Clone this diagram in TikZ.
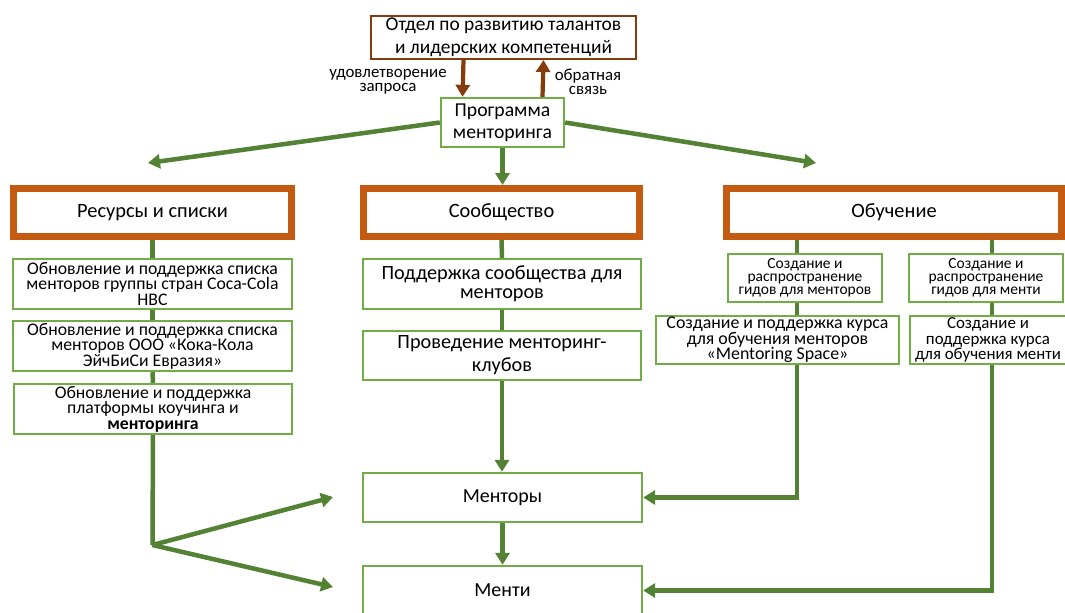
\documentclass[tikz,border=0pt]{standalone}
\usepackage{fontspec}
\setmainfont{Carlito}
\usetikzlibrary{arrows.meta, positioning}
\definecolor{brownline}{HTML}{843C0C}
\definecolor{orangeline}{HTML}{C55A11}
\definecolor{greenline}{HTML}{548235}
\definecolor{greenbox}{HTML}{70AD47}
\newcommand{\pxu}{0.025cm}
\newcommand{\fsz}[2]{\fontsize{#1}{#2}\selectfont}

\tikzset{
  topbox/.style={draw=brownline, line width=1.5pt, fill=white, align=center, inner sep=0pt},
  headbox/.style={draw=orangeline, line width=5pt, fill=white, align=center, inner sep=0pt,
    minimum height=48*\pxu, font=\fsz{14.5}{16}},
  itembox/.style={draw=greenbox, line width=1.7pt, fill=white, align=center, inner sep=0pt},
  brarrow/.style={draw=brownline, line width=3pt, -{Triangle[length=8.5pt, width=10pt]}},
  grline/.style={draw=greenline, line width=3.2pt},
  grarrow/.style={grline, -{Triangle[length=8.5pt, width=10pt]}},
  sidelabel/.style={align=center, inner sep=0pt, font=\fsz{12}{10.2}}
}

\begin{document}
\begin{tikzpicture}[x=\pxu, y=-\pxu]
    \useasboundingbox (0,0) rectangle (1065,612);

    % top
    \node[topbox, minimum width=265*\pxu, minimum height=43*\pxu, font=\fsz{13.8}{16}] (otdel) at (503.5,37.5)
        {Отдел по развитию талантов\\и лидерских компетенций};
    \node[itembox, minimum width=123*\pxu, minimum height=49*\pxu, font=\fsz{14}{15.5}] (prog) at (502.5,122.5)
        {Программа\\менторинга};
    \node[sidelabel] (zapros) at (388,82) {удовлетворение\\запроса};
    \node[sidelabel] (svyaz) at (588,82) {обратная\\связь};

    \draw[brarrow] ([xshift=-40*\pxu]otdel.south) -- ([xshift=-40*\pxu]prog.north);
    \draw[brarrow] ([xshift=40*\pxu]prog.north) -- ([xshift=40*\pxu]otdel.south);

    % headers
    \node[headbox, minimum width=278*\pxu] (res) at (152.5,212.5) {Ресурсы и списки};
    \node[headbox, minimum width=276*\pxu] (sob) at (501.5,212.5) {Сообщество};
    \node[headbox, minimum width=335*\pxu] (obu) at (894,212.5) {Обучение};

    \coordinate (tipl) at (148,163);
    \coordinate (tipr) at (816,163);
    \draw[grarrow] (prog.west) -- (tipl);
    \draw[grarrow] (prog.east) -- (tipr);
    \draw[grarrow] (prog.south) -- (prog.south |- sob.north);

    % left column
    \node[itembox, minimum width=279*\pxu, minimum height=50*\pxu, font=\fsz{12.6}{11}] (res1) at (152.5,284)
        {Обновление и поддержка списка\\менторов группы стран Coca-Cola\\HBC};
    \node[itembox, minimum width=279*\pxu, minimum height=50*\pxu, font=\fsz{12.6}{11}] (res2) at (152.5,346)
        {Обновление и поддержка списка\\менторов ООО «Кока-Кола\\ЭйчБиСи Евразия»};
    \node[itembox, minimum width=278*\pxu, minimum height=50*\pxu, font=\fsz{12.6}{11}] (res3) at (153,409)
        {Обновление и поддержка\\платформы коучинга и\\\textbf{менторинга}};

    % middle column
    \node[itembox, minimum width=278*\pxu, minimum height=50*\pxu, font=\fsz{14.4}{13.8}] (sob1) at (502,284)
        {Поддержка сообщества для\\менторов};
    \node[itembox, minimum width=278*\pxu, minimum height=49*\pxu, font=\fsz{14.4}{16.2}] (sob2) at (502,355.5)
        {Проведение менторинг-\\клубов};
    \node[itembox, minimum width=279*\pxu, minimum height=49*\pxu, font=\fsz{14.2}{15}] (men) at (502.5,497.5) {Менторы};
    \node[itembox, minimum width=279*\pxu, minimum height=49*\pxu, font=\fsz{14.2}{15}] (mti) at (502.5,590.5) {Менти};

    % right column
    \node[itembox, minimum width=154*\pxu, minimum height=48*\pxu, font=\fsz{11}{9.2}] (ga) at (805,278)
        {Создание и\\распространение\\гидов для менторов};
    \node[itembox, minimum width=154*\pxu, minimum height=48*\pxu, font=\fsz{11}{9.2}] (gb) at (986,278)
        {Создание и\\распространение\\гидов для менти};
    \node[itembox, minimum width=243*\pxu, minimum height=48*\pxu, font=\fsz{12.7}{11}] (gc) at (777.5,340)
        {Создание и поддержка курса\\для обучения менторов\\«Mentoring Space»};
    \node[itembox, minimum width=156*\pxu, minimum height=48*\pxu, font=\fsz{12}{11}] (gd) at (988,340)
        {Создание и\\поддержка курса\\для обучения менти};

    % connectors
    \draw[grline] (res.south) -- (res1.north);
    \draw[grline] (res1.south) -- (res2.north);
    \draw[grline] (res2.south) -- (res3.north);
    \coordinate (branch) at (152.5,545);
    \coordinate (tipmen) at (333,497);
    \coordinate (tipmti) at (333,587);
    \draw[grline] (res3.south) -- (branch);
    \draw[grarrow] (branch) -- (tipmen);
    \draw[grarrow] (branch) -- (tipmti);

    \draw[grline] (sob.south) -- (sob1.north);
    \draw[grline] (sob1.south) -- (sob2.north);
    \draw[grarrow] (sob2.south) -- (sob2.south |- men.north);
    \draw[grarrow] (men.south) -- (mti.north);

    \coordinate (lm) at (797,0);
    \coordinate (lr) at (992,0);
    \draw[grline] (obu.south -| lm) -- (ga.north -| lm);
    \draw[grline] (ga.south -| lm) -- (gc.north -| lm);
    \draw[grarrow] (gc.south -| lm) |- (men.east);
    \draw[grline] (obu.south -| lr) -- (gb.north -| lr);
    \draw[grline] (gb.south -| lr) -- (gd.north -| lr);
    \draw[grarrow] (gd.south -| lr) |- (mti.east);
\end{tikzpicture}
\end{document}
